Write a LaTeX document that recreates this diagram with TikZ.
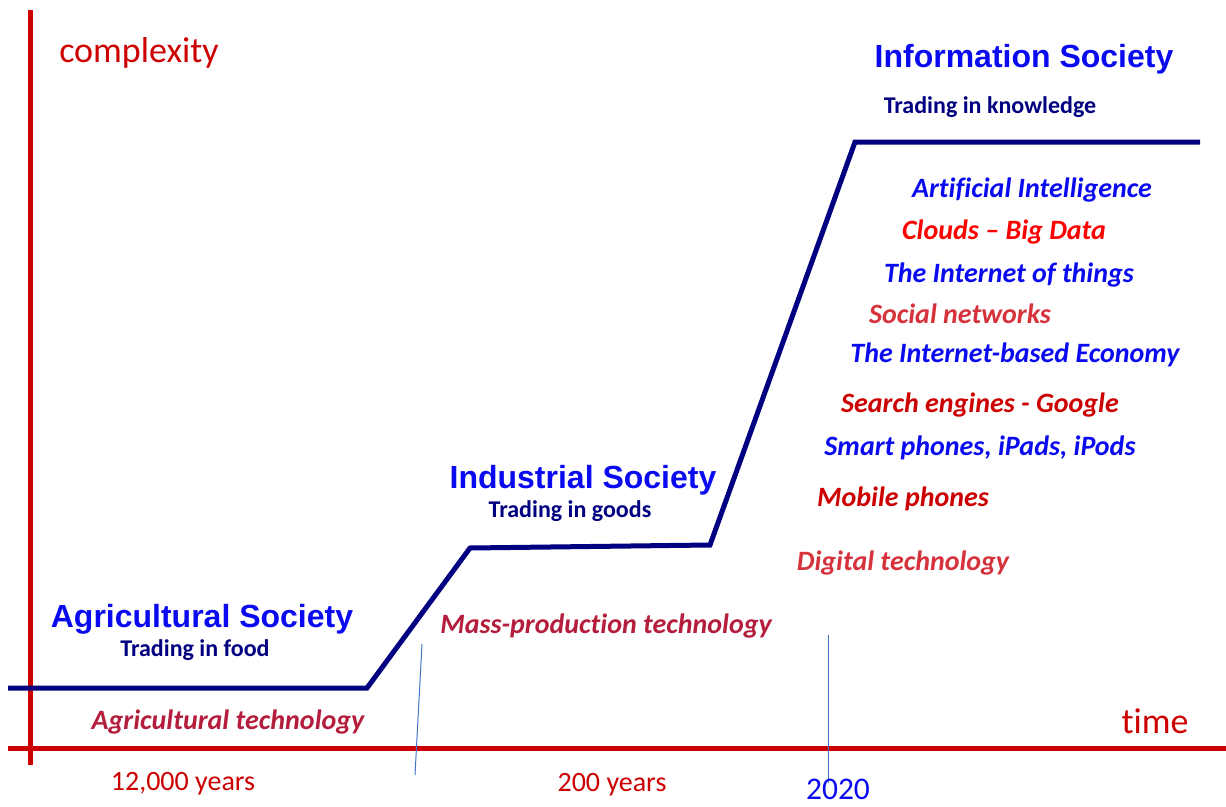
\documentclass[tikz,border=0pt]{standalone}
\usepackage{fontspec}
\newfontfamily\calfont[Ligatures=NoCommon]{Carlito}
\newfontfamily\arialfont{Liberation Sans}
\definecolor{axisred}{RGB}{204,0,0}
\definecolor{stepnavy}{RGB}{0,0,128}
\definecolor{titleblue}{RGB}{10,10,240}
\definecolor{brightred}{RGB}{255,0,0}
\definecolor{itemred}{RGB}{204,0,0}
\definecolor{softcrimson}{RGB}{214,50,60}
\definecolor{deepcrimson}{RGB}{180,30,60}
\definecolor{markblue}{RGB}{68,114,196}
\tikzset{
  axis/.style={draw=axisred, line width=5pt},
  curve/.style={draw=stepnavy, line width=5pt, line join=miter},
  marker/.style={draw=markblue, line width=1pt},
  lbl/.style={inner sep=0pt, anchor=base},
  society/.style={lbl, text=titleblue, font=\arialfont\bfseries\fontsize{32}{36}\selectfont},
  trade/.style={lbl, text=stepnavy, font=\calfont\bfseries\fontsize{24}{28}\selectfont},
  tech/.style={lbl, font=\calfont\bfseries\itshape\fontsize{28}{32}\selectfont},
  axlabel/.style={lbl, text=axisred, font=\calfont\fontsize{28}{32}\selectfont},
  biglabel/.style={lbl, text=axisred, font=\calfont\fontsize{36}{40}\selectfont},
}
\begin{document}
\begin{tikzpicture}[x=1pt, y=-1pt]
\useasboundingbox (0,0) rectangle (1226,806);
% axes
\coordinate (ytop) at (30,10);
\coordinate (ybot) at (30,765);
\coordinate (xl) at (8,748);
\coordinate (xr) at (1226,748);
\draw[axis] (ytop) -- (ybot);
\draw[axis] (xl) -- (xr);
% complexity curve
\coordinate (c0) at (8,688);
\coordinate (c1) at (367,688);
\coordinate (c2) at (470,548);
\coordinate (c3) at (710,545);
\coordinate (c4) at (855,142);
\coordinate (c5) at (1200,142);
\draw[curve] (c0) -- (c1) -- (c2) -- (c3) -- (c4) -- (c5);
% era markers
\coordinate (m1a) at (422,644);
\coordinate (m1b) at (415,775);
\coordinate (m2a) at (828,635);
\coordinate (m2b) at (828,783);
\draw[marker] (m1a) -- (m1b);
\draw[marker] (m2a) -- (m2b);
% axis labels
\node[biglabel] (cx) at (139,62) {complexity};
\node[biglabel] (tm) at (1155,733) {time};
\node[axlabel] (y12) at (183,790) {12,000 years};
\node[axlabel] (y200) at (612,791) {200 years};
\node[lbl, text=titleblue, font=\calfont\fontsize{31.5}{36}\selectfont] (y2020) at (838,799) {2020};
% societies
\node[society] (is) at (1024,67) {Information Society};
\node[trade] (isk) at (990,113) {Trading in knowledge};
\node[society] (ins) at (583,488) {Industrial Society};
\node[trade] (insg) at (570,517) {Trading in goods};
\node[society] (as) at (202,627) {Agricultural Society};
\node[trade] (asf) at (195,656) {Trading in food};
% technologies
\node[tech, text=titleblue] (t1) at (1032,197) {Artificial Intelligence};
\node[tech, text=brightred] (t2) at (1004,239) {Clouds – Big Data};
\node[tech, text=titleblue] (t3) at (1009,282) {The Internet of things};
\node[tech, text=softcrimson] (t4) at (960,323) {Social networks};
\node[tech, text=titleblue] (t5) at (1015,362) {The Internet-based Economy};
\node[tech, text=itemred] (t6) at (980,412) {Search engines - Google};
\node[tech, text=titleblue] (t7) at (980,455) {Smart phones, iPads, iPods};
\node[tech, text=itemred] (t8) at (903,506) {Mobile phones};
\node[tech, text=softcrimson] (t9) at (903,570) {Digital technology};
\node[tech, text=deepcrimson] (t10) at (606,633) {Mass-production technology};
\node[tech, text=deepcrimson] (t11) at (228,729) {Agricultural technology};
\end{tikzpicture}
\end{document}
